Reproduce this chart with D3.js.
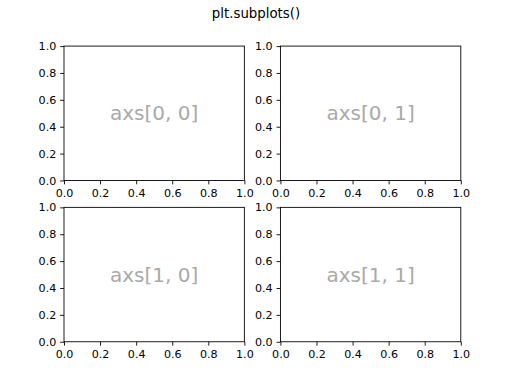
<!DOCTYPE html>
<html><head><meta charset="utf-8">
<script src="https://cdn.jsdelivr.net/npm/d3@7"></script>
<style>body{margin:0;background:#fff}svg{display:block}</style>
</head><body>
<script>
const titleText = "plt.subplots()";
const panelLabels = [["axs[0, 0]", "axs[0, 1]"], ["axs[1, 0]", "axs[1, 1]"]];
const xTicks = [0.0, 0.2, 0.4, 0.6, 0.8, 1.0];
const yTicks = [0.0, 0.2, 0.4, 0.6, 0.8, 1.0];
const xDomain = [0, 1];
const yDomain = [0, 1];

(function () {
const W = 512, H = 384;
const mLeft = 0.125 * W, mRight = 0.9 * W;
const mTop = (1 - 0.88) * H, mBottom = (1 - 0.11) * H;
const wspace = 0.2, hspace = 0.2;
const aw = (mRight - mLeft) / (2 + wspace);
const ah = (mBottom - mTop) / (2 + hspace);
const tick = 3.5 * 80 / 72, pad = 3.5 * 80 / 72;
const font = "DejaVu Sans";

const svg = d3.select("body").append("svg").attr("width", W).attr("height", H);

svg.append("text").attr("x", W / 2).attr("y", 18.2)
  .attr("text-anchor", "middle").attr("font-family", font)
  .attr("font-size", 12 * 80 / 72).attr("fill", "#000").text(titleText);

for (let r = 0; r < 2; r++) {
  for (let c = 0; c < 2; c++) {
    const x0 = mLeft + c * aw * (1 + wspace);
    const y0 = mTop + r * ah * (1 + hspace);
    const g = svg.append("g").attr("transform", `translate(${x0},${y0})`);
    const xs = d3.scaleLinear().domain(xDomain).range([0, aw]);
    const ys = d3.scaleLinear().domain(yDomain).range([ah, 0]);

    const xa = g.append("g").attr("transform", `translate(0,${ah})`)
      .call(d3.axisBottom(xs).tickValues(xTicks).tickFormat(d3.format(".1f"))
        .tickSize(tick).tickPadding(pad).tickSizeOuter(0));
    const ya = g.append("g")
      .call(d3.axisLeft(ys).tickValues(yTicks).tickFormat(d3.format(".1f"))
        .tickSize(tick).tickPadding(pad).tickSizeOuter(0));
    [xa, ya].forEach(a => {
      a.select(".domain").remove();
      a.selectAll("line").attr("stroke", "#000").attr("stroke-width", 0.89);
      a.selectAll("text").attr("font-family", font).attr("font-size", 10 * 80 / 72).attr("fill", "#000");
    });
    xa.selectAll("text").attr("dy", "0.76em");

    g.append("rect").attr("x", 0).attr("y", 0).attr("width", aw).attr("height", ah)
      .attr("fill", "none").attr("stroke", "#000").attr("stroke-width", 0.89);

    g.append("text").attr("x", aw / 2).attr("y", ah / 2)
      .attr("text-anchor", "middle").attr("dominant-baseline", "central")
      .attr("font-family", font).attr("font-size", 18 * 80 / 72)
      .attr("fill", "#a9a9a9").text(panelLabels[r][c]);
  }
}
})();
</script>
</body></html>
